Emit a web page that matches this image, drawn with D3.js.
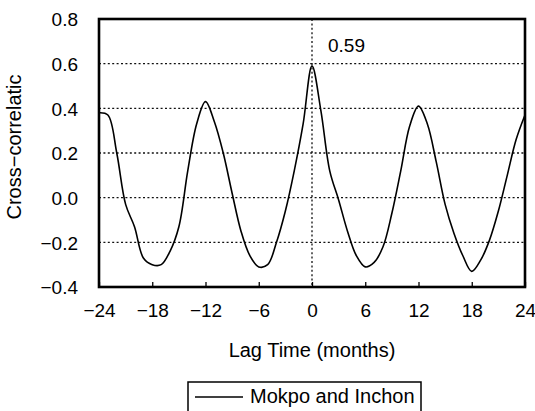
<!DOCTYPE html>
<html>
<head>
<meta charset="utf-8">
<script src="https://cdn.jsdelivr.net/npm/d3@7"></script>
<style>
  html, body { margin: 0; padding: 0; background: #fff; }
  svg { display: block; font-family: Arial, "Liberation Sans", sans-serif; }
</style>
</head>
<body>
<svg id="chart" width="535" height="411"></svg>
<script>
// Lag in months and cross-correlation between the Mokpo and Inchon series
const lags = d3.range(-24, 25);
const correlation = [
  0.38, 0.37, 0.20, -0.03, -0.13, -0.27, -0.30, -0.30, -0.24, -0.13,
  0.12, 0.33, 0.43, 0.34, 0.20, 0.02, -0.15, -0.26, -0.31, -0.30,
  -0.20, -0.06, 0.12, 0.33, 0.59, 0.39, 0.12, -0.01, -0.15, -0.26,
  -0.31, -0.29, -0.22, -0.07, 0.12, 0.32, 0.41, 0.33, 0.16, -0.03,
  -0.16, -0.26, -0.33, -0.28, -0.19, -0.06, 0.10, 0.26, 0.37
];
const xTicks = [-24, -18, -12, -6, 0, 6, 12, 18, 24];
const yTicks = [-0.4, -0.2, 0.0, 0.2, 0.4, 0.6, 0.8];
const gridValues = [-0.2, 0.0, 0.2, 0.4, 0.6];
const peakLabel = "0.59";
const seriesName = "Mokpo and Inchon";

const svg = d3.select("#chart");
const plot = { left: 99, right: 525, top: 19, bottom: 287 };

const x = d3.scaleLinear().domain([-24, 24]).range([plot.left, plot.right]);
const y = d3.scaleLinear().domain([-0.4, 0.8]).range([plot.bottom, plot.top]);

const fmtY = v => (v < 0 ? "\u2212" : "") + Math.abs(v).toFixed(1);
const fmtX = v => (v < 0 ? "\u2212" : "") + Math.abs(v);

// dotted horizontal grid
svg.append("g")
  .selectAll("line")
  .data(gridValues)
  .join("line")
  .attr("x1", plot.left).attr("x2", plot.right)
  .attr("y1", d => y(d)).attr("y2", d => y(d))
  .attr("stroke", "#111").attr("stroke-width", 1.3)
  .attr("stroke-dasharray", "2,2.4");

// dotted vertical marker at zero lag
svg.append("line")
  .attr("x1", x(0)).attr("x2", x(0))
  .attr("y1", plot.top).attr("y2", plot.bottom)
  .attr("stroke", "#111").attr("stroke-width", 1.3)
  .attr("stroke-dasharray", "2,2.4");

// correlation curve
const line = d3.line()
  .x((d, i) => x(lags[i]))
  .y(d => y(d))
  .curve(d3.curveCatmullRom.alpha(0.5));

svg.append("path")
  .datum(correlation)
  .attr("d", line)
  .attr("fill", "none")
  .attr("stroke", "#000")
  .attr("stroke-width", 1.6)
  .attr("stroke-linejoin", "round");

// x axis: inward ticks and labels
const xAxis = d3.axisBottom(x).tickValues(xTicks).tickSizeInner(-5).tickSizeOuter(0).tickFormat(fmtX);
const gx = svg.append("g").attr("transform", `translate(0,${plot.bottom})`).call(xAxis);
gx.select(".domain").remove();
gx.selectAll(".tick line").attr("stroke", "#000").attr("stroke-width", 1.3);
gx.selectAll(".tick text")
  .attr("y", 30).attr("dy", 0)
  .attr("font-size", 19).attr("fill", "#000")
  .attr("font-family", "Arial, 'Liberation Sans', sans-serif");

// y axis labels
const yAxis = d3.axisLeft(y).tickValues(yTicks).tickSize(0).tickFormat(fmtY);
const gy = svg.append("g").attr("transform", `translate(${plot.left},0)`).call(yAxis);
gy.select(".domain").remove();
gy.selectAll(".tick text")
  .attr("x", -21).attr("dy", "0.36em")
  .attr("font-size", 19).attr("fill", "#000")
  .attr("font-family", "Arial, 'Liberation Sans', sans-serif");

// plot frame
svg.append("rect")
  .attr("x", plot.left).attr("y", plot.top)
  .attr("width", plot.right - plot.left).attr("height", plot.bottom - plot.top)
  .attr("fill", "none").attr("stroke", "#000").attr("stroke-width", 2.6);

// peak value annotation
svg.append("text")
  .attr("x", x(0) + 16).attr("y", 52)
  .attr("font-size", 19).text(peakLabel);

// axis titles
svg.append("text")
  .attr("x", (plot.left + plot.right) / 2).attr("y", 357)
  .attr("text-anchor", "middle").attr("font-size", 20)
  .text("Lag Time (months)");

svg.append("text")
  .attr("transform", "translate(21,147) rotate(-90)")
  .attr("text-anchor", "middle").attr("font-size", 20)
  .text("Cross\u2212correlatic");

// legend
const legend = svg.append("g");
legend.append("rect")
  .attr("x", 188).attr("y", 382).attr("width", 233).attr("height", 40)
  .attr("fill", "#fff").attr("stroke", "#000").attr("stroke-width", 1.5);
legend.append("line")
  .attr("x1", 195).attr("x2", 243).attr("y1", 397).attr("y2", 397)
  .attr("stroke", "#000").attr("stroke-width", 1.3);
legend.append("text")
  .attr("x", 250).attr("y", 403)
  .attr("font-size", 20).text(seriesName);
</script>
</body>
</html>
